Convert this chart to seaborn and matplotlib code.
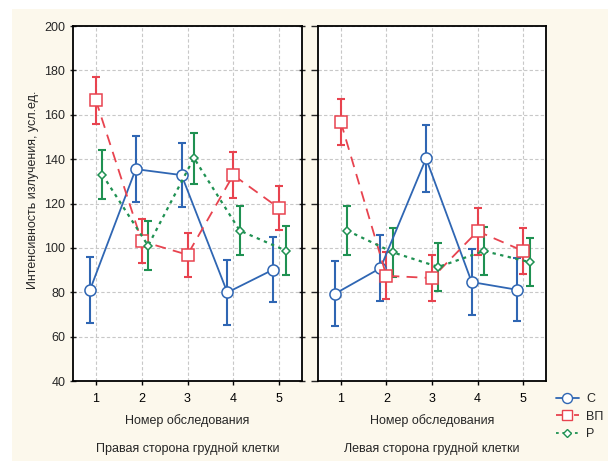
import matplotlib
matplotlib.use("Agg")
import matplotlib.pyplot as plt
import seaborn as sns
import pandas as pd
from matplotlib.patches import Rectangle
from matplotlib.lines import Line2D

# ---- data ----
obs = [1, 2, 3, 4, 5]
series_names = ["С", "ВП", "Р"]

right_C = [81.0, 135.5, 132.8, 79.9, 90.2]
right_C_err = [14.7, 15.0, 14.5, 14.7, 14.7]
right_VP = [166.5, 103.0, 96.9, 132.8, 117.9]
right_VP_err = [10.5, 10.0, 10.0, 10.5, 10.0]
right_R = [133.0, 101.0, 140.5, 107.8, 98.8]
right_R_err = [11.0, 11.0, 11.5, 11.0, 11.0]

left_C = [79.3, 90.9, 140.3, 84.6, 81.1]
left_C_err = [14.7, 14.7, 15.0, 14.8, 14.2]
left_VP = [156.7, 87.4, 86.4, 107.5, 98.6]
left_VP_err = [10.4, 10.6, 10.4, 10.6, 10.3]
left_R = [107.8, 98.0, 91.4, 98.6, 93.6]
left_R_err = [11.0, 11.0, 10.8, 11.0, 11.0]

panel_titles = ["Правая сторона грудной клетки", "Левая сторона грудной клетки"]
xlabel = "Номер обследования"
ylabel = "Интенсивность излучения, усл.ед."
yticks = [40, 60, 80, 100, 120, 140, 160, 180, 200]

# ---- style ----
sns.set_style("white")
plt.rcParams["font.family"] = ["Liberation Sans", "DejaVu Sans"]
plt.rcParams["font.size"] = 9

colors = {"С": "#2f66b3", "ВП": "#e8434f", "Р": "#1f9152"}
markers = {"С": "o", "ВП": "s", "Р": "D"}
msizes = {"С": 8, "ВП": 8, "Р": 4.5}
dashes = {"С": (None, None), "ВП": (6, 4), "Р": (1.5, 2)}
offsets = {"С": -0.13, "ВП": 0.0, "Р": 0.14}

panels = [
    {"С": (right_C, right_C_err), "ВП": (right_VP, right_VP_err), "Р": (right_R, right_R_err)},
    {"С": (left_C, left_C_err), "ВП": (left_VP, left_VP_err), "Р": (left_R, left_R_err)},
]

fig = plt.figure(figsize=(6.08, 4.61), dpi=100)
fig.patch.set_facecolor("white")
W, H = 608, 461
fig.patches.append(Rectangle((12 / W, 0), 1 - 12 / W, 1 - 9 / H, transform=fig.transFigure,
                             facecolor="#fcf8ec", edgecolor="none", zorder=-10))

axes_rects = [
    [73 / W, 1 - 381 / H, 229 / W, 355 / H],
    [318 / W, 1 - 381 / H, 228 / W, 355 / H],
]

for pi, (rect, pdata) in enumerate(zip(axes_rects, panels)):
    ax = fig.add_axes(rect)
    ax.set_zorder(2)
    ax.set_facecolor("white")
    for name in series_names:
        vals, errs = pdata[name]
        xs = [o + offsets[name] for o in obs]
        df = pd.DataFrame({"x": xs, "y": vals})
        ax.errorbar(xs, vals, yerr=errs, fmt="none", ecolor=colors[name],
                    elinewidth=1.5, capsize=3, capthick=1.5, zorder=3)
        ls = "-" if name == "С" else "--"
        sns.lineplot(data=df, x="x", y="y", ax=ax, color=colors[name],
                     linewidth=1.3, linestyle=ls, marker=markers[name],
                     markersize=msizes[name], markerfacecolor="white",
                     markeredgecolor=colors[name], markeredgewidth=1.1,
                     zorder=4, sort=False)
        line = ax.lines[-1]
        if name != "С":
            line.set_dashes(dashes[name])
        line.set_linewidth(1.3 if name != "Р" else 1.6)
    ax.set_xlim(0.5, 5.5)
    ax.set_ylim(40, 200)
    ax.set_xticks(obs)
    ax.set_xticklabels([str(o) for o in obs])
    ax.set_yticks(yticks)
    ax.grid(True, color="#c8c8c8", linestyle=(0, (3, 2)), linewidth=0.8)
    ax.set_axisbelow(True)
    ax.set_xlabel("")
    ax.set_ylabel("")
    for sp in ax.spines.values():
        sp.set_visible(True)
        sp.set_color("black")
        sp.set_linewidth(1.3)
    ax.tick_params(axis="x", direction="out", length=3, width=1, pad=6,
                   labelsize=9, colors="black", bottom=True)
    if pi == 0:
        ax.tick_params(axis="y", direction="inout", length=5, width=1,
                       labelsize=9, left=True, right=True, pad=3)
        ax.set_yticklabels([str(t) for t in yticks])
    else:
        ax.tick_params(axis="y", direction="out", length=5, width=1,
                       left=True, labelleft=False)
    cx = (rect[0] + rect[2] / 2)
    fig.text(cx, 1 - 421 / H, xlabel, ha="center", va="center", fontsize=9)
    fig.text(cx, 1 - 449 / H, panel_titles[pi], ha="center", va="center", fontsize=9)

fig.text(33 / W, 1 - 190 / H, ylabel, rotation=90, ha="center", va="center", fontsize=9)

handles = []
for name in series_names:
    h = Line2D([0], [0], color=colors[name], marker=markers[name],
               markersize=msizes[name] * 0.9, markerfacecolor="white",
               markeredgecolor=colors[name], linewidth=1.3,
               linestyle="-" if name == "С" else "--")
    if name != "С":
        h.set_dashes(dashes[name])
    handles.append(h)
fig.legend(handles, series_names, loc="upper left",
           bbox_to_anchor=(556 / W, 1 - 393 / H), frameon=False,
           handlelength=1.8, handletextpad=0.6, labelspacing=0.45,
           fontsize=9, borderpad=0, borderaxespad=0)

fig.savefig("out.png", dpi=100, facecolor=fig.get_facecolor())
